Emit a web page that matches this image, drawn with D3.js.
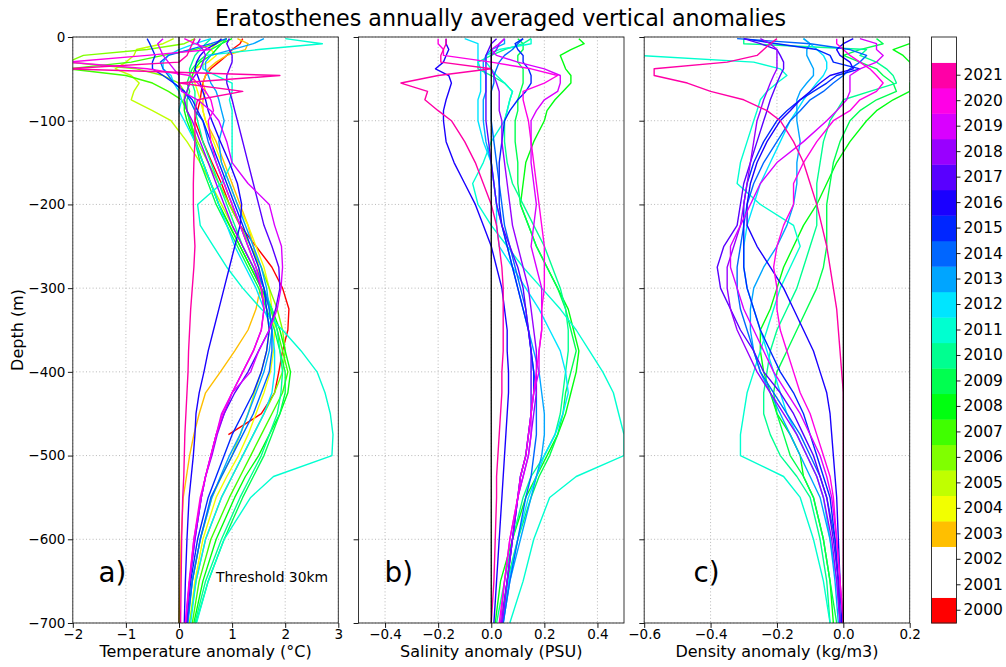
<!DOCTYPE html>
<html>
<head>
<meta charset="utf-8">
<script src="https://cdn.jsdelivr.net/npm/d3@7"></script>
<style>
  body { margin: 0; background: #fff; }
  svg { display: block; }
  text { font-family: "DejaVu Sans", sans-serif; fill: #000; }
</style>
</head>
<body>
<svg id="chart" width="1006" height="667"></svg>
<script>
// Depth levels (m) at which every profile is sampled
const depthLevels = [2,8,15,22,30,38,46,55,65,75,88,100,125,150,175,200,225,250,275,300,325,350,375,400,425,450,475,500,525,550,600,650,700];
const depthTicks = [0,-100,-200,-300,-400,-500,-600,-700];

// Colour bar: one bin per year
const colorYears = [2000,2001,2002,2003,2004,2005,2006,2007,2008,2009,2010,2011,2012,2013,2014,2015,2016,2017,2018,2019,2020,2021,2022];
const yearColors = ["#ff0000","#ffffff","#ffffff","#ffbf00","#f2ff00","#c0ff00","#80ff00","#40ff00","#00ff10","#00ff50","#00ff90","#00ffd0","#00e5ff","#00a5ff","#0066ff","#0026ff","#1a00ff","#5900ff","#9900ff","#d900ff","#ff00e6","#ff00a6","#ffffff"];

// a) temperature anomaly (°C)
const tempYears = [2000,2003,2004,2005,2006,2007,2008,2009,2010,2011,2012,2013,2014,2015,2016,2017,2018,2019,2020,2021];
const tempProfiles = [
  [1.2,1.15,1.0,0.9,0.75,0.6,0.5,0.45,0.42,0.4,0.35,0.3,0.45,0.62,0.8,0.95,1.15,1.45,1.75,1.95,2.07,2.05,1.95,1.88,1.8,1.55,0.93,null,null,null,null,null,null],
  [1.1,1.3,1.25,0.9,0.7,0.55,0.5,0.45,0.5,0.45,0.45,0.5,0.7,0.85,1.0,1.15,1.3,1.4,1.5,1.53,1.45,1.3,1.05,0.78,0.5,0.38,0.28,0.2,0.14,0.08,0.04,0.02,0.0],
  [0.8,0.7,0.6,0.7,0.55,0.3,0.25,0.3,0.35,0.4,0.45,0.5,0.65,0.8,0.95,1.1,1.3,1.45,1.6,1.7,1.75,1.8,1.78,1.72,1.6,1.45,1.3,1.12,0.9,0.7,0.45,0.3,0.2],
  [-0.1,-0.3,-0.8,-0.85,-1.0,-1.2,-0.9,-0.75,-0.85,-0.9,-0.5,-0.15,0.15,0.4,0.6,0.8,1.0,1.2,1.4,1.55,1.65,1.7,1.65,1.55,1.42,1.3,1.15,1.0,0.8,0.62,0.4,0.25,0.15],
  [0.3,0.1,-0.6,-1.8,-2.1,-0.8,-0.3,0.0,0.1,0.1,0.15,0.2,0.35,0.55,0.75,0.95,1.15,1.35,1.55,1.7,1.85,1.95,2.0,1.95,1.8,1.6,1.4,1.2,1.0,0.8,0.5,0.32,0.2],
  [0.9,0.7,0.3,-0.3,-0.9,-2.1,-1.0,-0.5,-0.2,0.05,0.15,0.22,0.32,0.45,0.6,0.75,0.95,1.15,1.35,1.55,1.72,1.85,1.95,2.05,1.95,1.75,1.55,1.35,1.15,0.95,0.6,0.38,0.25],
  [1.0,0.8,0.7,0.6,0.4,0.3,0.25,0.2,0.15,0.1,0.1,0.15,0.3,0.45,0.6,0.75,0.95,1.15,1.35,1.55,1.75,1.9,2.0,2.1,2.05,1.9,1.7,1.5,1.25,1.05,0.7,0.45,0.28],
  [0.9,0.8,0.6,0.5,0.35,0.25,0.2,0.15,0.2,0.15,0.15,0.2,0.3,0.4,0.55,0.7,0.9,1.1,1.3,1.5,1.65,1.8,1.9,2.0,2.0,1.9,1.75,1.6,1.4,1.2,0.85,0.55,0.32],
  [0.6,0.5,0.4,0.3,0.25,0.2,0.2,0.25,0.3,0.3,0.3,0.35,0.45,0.6,0.75,0.9,1.05,1.2,1.4,1.6,1.75,1.85,1.9,1.95,1.92,1.85,1.7,1.55,1.35,1.15,0.8,0.5,0.3],
  [2.0,2.7,1.5,0.5,0.45,0.45,0.7,1.0,1.0,0.95,1.0,1.0,1.0,1.0,0.8,0.35,0.4,0.65,0.9,1.2,1.55,1.95,2.3,2.6,2.75,2.85,2.9,2.88,1.78,1.35,0.85,0.55,0.33],
  [0.6,0.3,0.0,-0.2,-0.3,-0.3,-0.15,-0.1,0.0,0.05,0.0,0.1,0.3,0.45,0.6,0.75,0.9,1.05,1.25,1.45,1.6,1.75,1.8,1.8,1.75,1.6,1.4,1.2,1.0,0.8,0.5,0.32,0.22],
  [1.6,1.4,1.0,0.6,0.5,0.5,0.55,0.6,0.7,0.75,0.8,0.85,0.75,0.8,0.95,1.1,1.25,1.4,1.55,1.65,1.7,1.75,1.7,1.6,1.45,1.3,1.15,0.95,0.78,0.62,0.4,0.25,0.17],
  [0.9,0.6,0.2,-0.2,-0.35,-0.3,-0.2,-0.1,0.1,0.2,0.3,0.45,0.55,0.7,0.85,1.0,1.15,1.3,1.45,1.6,1.7,1.75,1.75,1.7,1.55,1.4,1.2,1.0,0.8,0.6,0.4,0.25,0.16],
  [-0.6,-0.55,-0.5,-0.45,-0.5,-0.5,-0.3,-0.1,0.1,0.25,0.35,0.45,0.6,0.75,0.9,1.05,1.2,1.35,1.5,1.6,1.65,1.7,1.65,1.55,1.4,1.2,1.0,0.85,0.7,0.55,0.35,0.22,0.14],
  [0.8,0.7,0.5,0.4,0.33,0.3,0.35,0.4,0.45,0.5,0.55,0.62,0.78,0.95,1.1,1.18,1.15,1.05,0.95,0.85,0.75,0.65,0.55,0.47,0.38,0.32,0.3,0.27,0.23,0.19,0.15,0.12,0.1],
  [0.95,0.9,0.95,1.0,1.0,0.95,0.9,0.9,0.95,1.0,1.05,1.1,1.2,1.3,1.4,1.5,1.6,1.75,1.88,1.9,1.82,1.7,1.5,1.3,1.05,0.85,0.7,0.6,0.5,0.42,0.3,0.2,0.14],
  [0.4,0.35,0.45,0.5,0.45,0.4,0.3,0.2,0.15,0.1,0.15,0.25,0.4,0.55,0.7,0.85,1.0,1.2,1.4,1.55,1.6,1.55,1.4,1.2,1.0,0.85,0.72,0.62,0.5,0.42,0.3,0.2,0.13],
  [-0.3,-0.4,-0.35,-0.3,-0.2,-0.1,0.0,0.0,0.05,0.35,0.6,0.75,0.9,1.0,1.3,1.7,1.8,1.93,1.95,1.92,1.85,1.7,1.5,1.35,1.0,0.8,0.7,0.6,0.5,0.42,0.28,0.2,0.12],
  [0.1,0.3,0.6,-0.6,-2.1,-0.6,0.2,0.35,0.5,0.6,0.65,0.55,0.6,0.7,0.85,1.0,1.15,1.3,1.45,1.55,1.6,1.55,1.4,1.2,1.0,0.82,0.7,0.6,0.5,0.4,0.28,0.19,0.12],
  [0.3,0.25,0.2,0.15,0.0,-2.1,1.9,0.0,1.2,0.35,0.3,0.3,0.3,0.28,0.27,0.27,0.28,0.3,0.28,0.25,0.22,0.2,0.18,0.17,0.15,0.13,0.11,0.1,0.09,0.07,0.05,0.04,0.03]
];

// b) salinity anomaly (PSU)
const salYears = [2008,2009,2010,2011,2012,2013,2014,2015,2016,2017,2018,2019,2020,2021];
const salProfiles = [
  [0.33,0.35,0.3,0.26,0.27,0.28,0.3,0.3,0.27,0.24,0.21,0.2,0.16,0.13,0.12,0.11,0.14,0.17,0.21,0.25,0.29,0.31,0.33,0.32,0.3,0.28,0.25,0.21,0.17,0.13,0.08,0.035,0.015],
  [0.1,0.12,0.12,0.1,0.1,0.12,0.12,0.12,0.11,0.1,0.1,0.09,0.09,0.1,0.1,0.11,0.14,0.17,0.21,0.25,0.28,0.3,0.32,0.3,0.28,0.27,0.25,0.22,0.18,0.15,0.1,0.06,0.035],
  [0.15,0.12,0.05,0.0,-0.05,-0.05,0.0,0.05,0.08,0.07,0.06,0.05,0.05,0.06,0.08,0.12,0.16,0.2,0.23,0.26,0.28,0.29,0.29,0.28,0.27,0.26,0.24,0.2,0.15,0.12,0.08,0.05,0.02],
  [0.15,0.15,0.03,-0.02,-0.02,0.0,0.02,0.05,0.08,0.07,0.06,0.05,0.0,-0.03,-0.07,-0.05,0.0,0.06,0.12,0.19,0.26,0.32,0.37,0.42,0.46,0.48,0.5,0.5,0.32,0.22,0.16,0.12,0.07],
  [-0.1,-0.05,-0.05,-0.05,-0.05,-0.04,-0.04,-0.04,-0.04,-0.05,-0.05,-0.05,-0.03,0.0,0.01,0.02,0.02,0.03,0.08,0.13,0.18,0.22,0.26,0.28,0.29,0.27,0.24,0.2,0.17,0.14,0.1,0.065,0.045],
  [0.05,0.05,0.0,-0.02,-0.03,-0.03,-0.02,-0.02,-0.02,-0.03,-0.03,-0.03,-0.02,0.0,0.01,0.02,0.04,0.06,0.08,0.1,0.12,0.14,0.16,0.18,0.19,0.2,0.2,0.19,0.17,0.15,0.11,0.07,0.045],
  [0.12,0.1,0.08,0.05,0.03,0.02,0.01,0.01,0.0,0.0,0.0,0.0,0.01,0.02,0.03,0.04,0.05,0.07,0.09,0.11,0.13,0.14,0.15,0.16,0.17,0.17,0.17,0.16,0.15,0.13,0.1,0.07,0.045],
  [0.12,0.09,0.1,0.12,0.12,0.14,0.15,0.15,0.13,0.1,0.07,0.05,0.04,0.03,0.03,0.03,0.04,0.06,0.08,0.1,0.12,0.14,0.15,0.16,0.16,0.15,0.14,0.13,0.11,0.1,0.08,0.06,0.04],
  [-0.17,-0.17,-0.16,-0.17,-0.18,-0.21,-0.16,-0.15,-0.16,-0.17,-0.18,-0.18,-0.17,-0.14,-0.1,-0.06,-0.03,0.0,0.02,0.04,0.05,0.06,0.06,0.065,0.065,0.06,0.055,0.05,0.045,0.04,0.03,0.02,0.01],
  [0.02,0.0,-0.01,-0.02,-0.02,-0.02,-0.02,-0.02,-0.02,-0.02,-0.02,-0.02,-0.01,0.0,0.01,0.02,0.04,0.07,0.1,0.12,0.13,0.14,0.15,0.15,0.15,0.15,0.14,0.13,0.11,0.1,0.08,0.06,0.04],
  [0.05,0.03,0.02,0.0,0.0,0.0,0.01,0.02,0.03,0.03,0.03,0.04,0.04,0.05,0.06,0.07,0.08,0.1,0.12,0.14,0.15,0.16,0.17,0.17,0.17,0.16,0.15,0.14,0.12,0.1,0.08,0.06,0.04],
  [0.05,0.03,0.0,0.02,0.1,0.2,0.26,0.26,0.25,0.2,0.17,0.15,0.15,0.15,0.16,0.17,0.16,0.15,0.17,0.19,0.19,0.19,0.18,0.18,0.16,0.15,0.15,0.14,0.12,0.1,0.07,0.05,0.035],
  [-0.2,-0.2,-0.18,-0.18,0.0,0.15,0.25,0.2,0.12,0.12,0.13,0.14,0.15,0.16,0.17,0.18,0.19,0.2,0.2,0.2,0.19,0.19,0.18,0.17,0.16,0.15,0.14,0.13,0.11,0.1,0.07,0.05,0.03],
  [-0.17,-0.17,-0.18,-0.19,-0.19,0.0,-0.2,-0.34,-0.24,-0.25,-0.2,-0.15,-0.1,-0.06,-0.03,0.0,0.02,0.03,0.04,0.045,0.045,0.045,0.045,0.04,0.04,0.035,0.03,0.025,0.02,0.02,0.015,0.01,0.0]
];

// c) density anomaly (kg/m3)
const densYears = [2008,2009,2010,2011,2012,2013,2014,2015,2016,2017,2018,2019,2020,2021];
const densProfiles = [
  [0.22,0.2,0.15,0.18,0.2,0.22,0.22,0.2,0.2,0.15,0.1,0.07,0.02,-0.02,-0.05,-0.08,-0.12,-0.15,-0.18,-0.2,-0.22,-0.25,-0.25,-0.24,-0.22,-0.2,-0.16,-0.13,-0.12,-0.09,-0.06,-0.04,-0.03],
  [0.1,0.12,0.05,0.0,0.05,0.1,0.12,0.15,0.16,0.1,0.05,0.02,-0.01,-0.03,-0.04,-0.05,-0.05,-0.05,-0.06,-0.08,-0.11,-0.14,-0.17,-0.2,-0.21,-0.2,-0.18,-0.16,-0.12,-0.09,-0.06,-0.04,-0.02],
  [-0.3,-0.3,0.07,0.05,0.1,0.13,0.15,0.16,0.08,0.0,-0.02,-0.04,-0.06,-0.07,-0.08,-0.08,-0.08,-0.1,-0.12,-0.14,-0.17,-0.2,-0.22,-0.23,-0.24,-0.24,-0.22,-0.19,-0.14,-0.1,-0.07,-0.05,-0.04],
  [-0.7,-0.7,-0.7,-0.62,-0.27,-0.19,-0.17,-0.2,-0.23,-0.25,-0.26,-0.27,-0.29,-0.31,-0.32,-0.25,-0.15,-0.13,-0.16,-0.19,-0.21,-0.23,-0.25,-0.27,-0.29,-0.3,-0.31,-0.31,-0.18,-0.13,-0.09,-0.06,-0.04],
  [-0.12,-0.1,-0.08,-0.06,-0.05,-0.05,-0.06,-0.08,-0.1,-0.12,-0.14,-0.16,-0.19,-0.22,-0.25,-0.27,-0.29,-0.3,-0.3,-0.29,-0.27,-0.25,-0.23,-0.21,-0.19,-0.17,-0.14,-0.11,-0.08,-0.06,-0.04,-0.02,-0.01],
  [-0.12,-0.1,-0.11,-0.11,-0.1,-0.09,-0.09,-0.11,-0.13,-0.14,-0.14,-0.14,-0.13,-0.14,-0.14,-0.15,-0.17,-0.2,-0.24,-0.27,-0.28,-0.28,-0.27,-0.25,-0.22,-0.19,-0.16,-0.13,-0.1,-0.07,-0.04,-0.025,-0.015],
  [-0.32,-0.1,0.02,0.07,0.05,0.02,0.0,-0.03,-0.06,-0.1,-0.13,-0.16,-0.2,-0.24,-0.27,-0.29,-0.3,-0.31,-0.32,-0.32,-0.31,-0.29,-0.27,-0.25,-0.21,-0.17,-0.13,-0.1,-0.07,-0.05,-0.025,-0.015,-0.01],
  [-0.3,-0.2,-0.08,-0.04,-0.03,0.05,-0.02,-0.05,-0.09,-0.13,-0.17,-0.2,-0.24,-0.27,-0.29,-0.3,-0.3,-0.3,-0.3,-0.29,-0.27,-0.25,-0.22,-0.19,-0.15,-0.12,-0.1,-0.08,-0.06,-0.04,-0.025,-0.015,-0.01],
  [0.03,0.0,-0.02,-0.01,0.02,0.03,-0.04,-0.07,-0.1,-0.13,-0.16,-0.19,-0.23,-0.26,-0.28,-0.29,-0.29,-0.26,-0.22,-0.18,-0.15,-0.12,-0.09,-0.07,-0.05,-0.04,-0.035,-0.03,-0.025,-0.02,-0.015,-0.01,-0.005],
  [-0.3,-0.25,-0.2,-0.19,-0.18,-0.18,-0.19,-0.2,-0.21,-0.22,-0.23,-0.24,-0.26,-0.28,-0.3,-0.31,-0.32,-0.36,-0.38,-0.37,-0.34,-0.31,-0.27,-0.24,-0.19,-0.15,-0.12,-0.09,-0.07,-0.05,-0.03,-0.015,-0.01],
  [-0.25,-0.22,-0.2,-0.2,-0.2,-0.2,-0.21,-0.22,-0.23,-0.24,-0.25,-0.26,-0.27,-0.28,-0.29,-0.3,-0.31,-0.33,-0.35,-0.35,-0.34,-0.32,-0.29,-0.26,-0.22,-0.18,-0.14,-0.11,-0.08,-0.06,-0.035,-0.02,-0.01],
  [0.05,0.1,0.1,0.12,0.1,0.05,0.02,0.02,0.02,0.01,-0.02,-0.05,-0.12,-0.2,-0.25,-0.28,-0.31,-0.34,-0.34,-0.32,-0.3,-0.27,-0.24,-0.21,-0.17,-0.13,-0.1,-0.07,-0.05,-0.035,-0.02,-0.01,0.0],
  [-0.02,-0.02,0.0,0.02,0.05,0.08,0.1,0.12,0.1,0.05,0.02,-0.03,-0.08,-0.12,-0.15,-0.15,-0.18,-0.2,-0.21,-0.2,-0.2,-0.19,-0.17,-0.15,-0.13,-0.1,-0.08,-0.06,-0.04,-0.03,-0.02,-0.01,0.0],
  [-0.2,-0.22,-0.24,-0.26,-0.35,-0.57,-0.57,-0.47,-0.4,-0.3,-0.23,-0.19,-0.15,-0.12,-0.1,-0.08,-0.065,-0.05,-0.04,-0.03,-0.02,-0.015,-0.01,-0.005,0.0,0.0,0.0,0.0,0.0,0.0,0.0,0.0,0.0]
];

const tempTicks = [-2,-1,0,1,2,3];
const salTicks = [-0.4,-0.2,0,0.2,0.4];
const densTicks = [-0.6,-0.4,-0.2,0,0.2];

// ---------------------------------------------------------------------------
const svg = d3.select("#chart");
const plotTop = 37, plotBottom = 623;
const panelW = 265.5, panelGap = 20.2, firstLeft = 72.8;
const y = d3.scaleLinear().domain([0, -700]).range([plotTop, plotBottom]);
const colorOf = yr => yearColors[colorYears.indexOf(yr)];

const panels = [
  { years: tempYears, profiles: tempProfiles, domain: [-2, 3], ticks: tempTicks, fmt: d3.format("d"),
    label: "Temperature anomaly (°C)", tag: "a)", tagX: 98.5 },
  { years: salYears, profiles: salProfiles, domain: [-0.5, 0.5], ticks: salTicks, fmt: d3.format(".1f"),
    label: "Salinity anomaly (PSU)", tag: "b)", tagX: 384.5 },
  { years: densYears, profiles: densProfiles, domain: [-0.6, 0.2], ticks: densTicks, fmt: d3.format(".1f"),
    label: "Density anomaly (kg/m3)", tag: "c)", tagX: 693.5 }
];

const defs = svg.append("defs");

panels.forEach((p, i) => {
  const left = firstLeft + i * (panelW + panelGap);
  const x = d3.scaleLinear().domain(p.domain).range([left, left + panelW]);
  const g = svg.append("g");

  const clipId = "panel-clip-" + i;
  defs.append("clipPath").attr("id", clipId)
    .append("rect").attr("x", left).attr("y", plotTop)
    .attr("width", panelW).attr("height", plotBottom - plotTop);

  // dotted grid
  const grid = g.append("g").attr("stroke", "#b0b0b0").attr("stroke-width", 0.9)
    .attr("stroke-dasharray", "1,2.3");
  grid.selectAll("line.gx").data(p.ticks).join("line").attr("class", "gx")
    .attr("x1", d => x(d)).attr("x2", d => x(d)).attr("y1", plotTop).attr("y2", plotBottom);
  grid.selectAll("line.gy").data(depthTicks).join("line").attr("class", "gy")
    .attr("x1", left).attr("x2", left + panelW).attr("y1", d => y(d)).attr("y2", d => y(d));

  // yearly profiles
  const line = d3.line()
    .defined(d => d.v !== null)
    .x(d => x(d.v))
    .y(d => y(d.depth));
  const series = p.years.map((yr, k) => ({
    yr,
    pts: p.profiles[k].map((v, j) => ({ v, depth: -depthLevels[j] }))
  }));
  g.append("g").attr("clip-path", `url(#${clipId})`)
    .selectAll("path").data(series).join("path")
    .attr("d", d => line(d.pts))
    .attr("fill", "none")
    .attr("stroke", d => colorOf(d.yr))
    .attr("stroke-width", 1.4)
    .attr("stroke-linejoin", "round");

  // zero reference line
  g.append("line")
    .attr("x1", x(0)).attr("x2", x(0)).attr("y1", plotTop).attr("y2", plotBottom)
    .attr("stroke", "#000").attr("stroke-width", 1.3);

  // frame
  g.append("rect").attr("x", left).attr("y", plotTop)
    .attr("width", panelW).attr("height", plotBottom - plotTop)
    .attr("fill", "none").attr("stroke", "#222").attr("stroke-width", 0.9);

  // axes
  const xa = g.append("g").attr("transform", `translate(0,${plotBottom})`)
    .call(d3.axisBottom(x).tickValues(p.ticks).tickFormat(p.fmt).tickSize(4.9).tickPadding(2));
  xa.select(".domain").remove();
  xa.attr("font-family", null).attr("font-size", 13.5);
  xa.selectAll(".tick line").attr("stroke-width", 0.9);

  const ya = g.append("g").attr("transform", `translate(${left},0)`)
    .call(d3.axisLeft(y).tickValues(depthTicks)
      .tickFormat(i === 0 ? d3.format("d") : () => "").tickSize(4.9).tickPadding(2.5));
  ya.select(".domain").remove();
  ya.attr("font-family", null).attr("font-size", 13.5);
  ya.selectAll(".tick line").attr("stroke-width", 0.9);

  // axis title
  svg.append("text").attr("x", left + panelW / 2).attr("y", 657)
    .attr("text-anchor", "middle").attr("font-size", 16).text(p.label);

  // panel tag
  svg.append("text").attr("x", p.tagX).attr("y", 581.5)
    .attr("font-size", 27.8).text(p.tag);
});

// threshold note in panel a
svg.append("text").attr("x", 216).attr("y", 581.5).attr("font-size", 13.9).text("Threshold 30km");

// depth label
svg.append("text").attr("transform", "translate(23,330) rotate(-90)")
  .attr("text-anchor", "middle").attr("font-size", 16).text("Depth (m)");

// title
svg.append("text").attr("x", 500.5).attr("y", 26).attr("text-anchor", "middle")
  .attr("font-size", 22.2).text("Eratosthenes annually averaged vertical anomalies");

// colour bar
const cbX = 931.5, cbW = 25;
const cb = d3.scaleBand().domain(colorYears).range([plotBottom, plotTop]);
const cbG = svg.append("g");
cbG.selectAll("rect.bin").data(colorYears).join("rect").attr("class", "bin")
  .attr("x", cbX).attr("y", d => cb(d))
  .attr("width", cbW).attr("height", cb.bandwidth() + 0.4)
  .attr("fill", d => colorOf(d));
cbG.append("rect").attr("x", cbX).attr("y", plotTop).attr("width", cbW)
  .attr("height", plotBottom - plotTop).attr("fill", "none")
  .attr("stroke", "#222").attr("stroke-width", 0.9);
const cbAxis = cbG.append("g").attr("transform", `translate(${cbX + cbW},0)`)
  .call(d3.axisRight(cb).tickValues(colorYears.slice(0, 22)).tickSize(4).tickPadding(3));
cbAxis.select(".domain").remove();
cbAxis.attr("font-family", null).attr("font-size", 15.5);
cbAxis.selectAll(".tick line").attr("stroke-width", 0.9);
</script>
</body>
</html>
